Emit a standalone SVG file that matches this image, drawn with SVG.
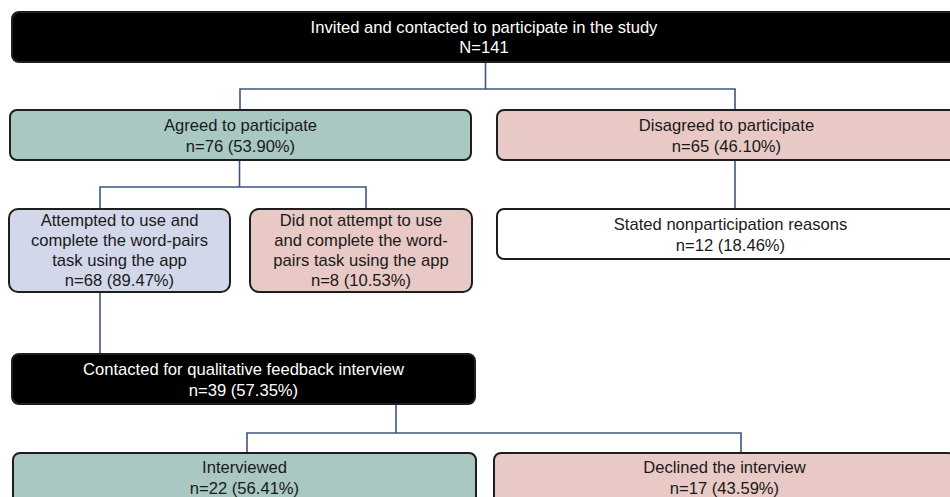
<svg xmlns="http://www.w3.org/2000/svg" width="950" height="497" viewBox="0 0 950 497">
<style>
.box{stroke:#1e1e1e;stroke-width:2}
.dark{fill:#000000}
.green{fill:#a8c8c1}
.pink{fill:#e8c9c5}
.blue{fill:#d2d7e9}
.white{fill:#ffffff}
text{font-family:"Liberation Sans",Arial,sans-serif;font-size:16.6px;text-anchor:middle;fill:#1a1a1a}
.dark+text, .lt{fill:#ffffff}
.conn{fill:none;stroke:#3d5580;stroke-width:1.6}
</style>
<rect width="950" height="497" fill="#ffffff"/>
<g id="connectors">
<path class="conn" d="M485.5,62 V89 H240 V110 M485.5,89 H735 V110"/>
<path class="conn" d="M239.5,160 V187 H100 V209 M239.5,187 H366 V209"/>
<path class="conn" d="M735,160 V209"/>
<path class="conn" d="M100,292 V354"/>
<path class="conn" d="M396,404 V433 H247 V453 M396,433 H741 V453"/>
</g>
<g id="invited">
<rect class="box dark" x="12" y="12" width="946" height="50" rx="7"/>
<text class="lt" x="484" y="33">Invited and contacted to participate in the study</text>
<text class="lt" x="484" y="53">N=141</text>
</g>
<g id="agreed">
<rect class="box green" x="10" y="110" width="461" height="50" rx="7"/>
<text x="240.5" y="131">Agreed to participate</text>
<text x="240.5" y="152">n=76 (53.90%)</text>
</g>
<g id="disagreed">
<rect class="box pink" x="497" y="110" width="461" height="50" rx="7"/>
<text x="726.5" y="131">Disagreed to participate</text>
<text x="726.5" y="152">n=65 (46.10%)</text>
</g>
<g id="attempted">
<rect class="box blue" x="9" y="209" width="221" height="83" rx="9"/>
<text x="119.5" y="226">Attempted to use and</text>
<text x="119.5" y="246">complete the word-pairs</text>
<text x="119.5" y="266">task using the app</text>
<text x="119.5" y="286">n=68 (89.47%)</text>
</g>
<g id="notattempted">
<rect class="box pink" x="250" y="209" width="222" height="83" rx="9"/>
<text x="361" y="226">Did not attempt to use</text>
<text x="361" y="246">and complete the word-</text>
<text x="361" y="266">pairs task using the app</text>
<text x="361" y="286">n=8 (10.53%)</text>
</g>
<g id="stated">
<rect class="box white" x="497" y="209" width="467" height="50" rx="7"/>
<text x="730.5" y="230">Stated nonparticipation reasons</text>
<text x="730.5" y="251">n=12 (18.46%)</text>
</g>
<g id="contacted">
<rect class="box dark" x="12" y="354" width="463" height="50" rx="7"/>
<text class="lt" x="243.5" y="375">Contacted for qualitative feedback interview</text>
<text class="lt" x="243.5" y="396">n=39 (57.35%)</text>
</g>
<g id="interviewed">
<rect class="box green" x="13" y="453" width="463" height="60" rx="7"/>
<text x="244.5" y="473">Interviewed</text>
<text x="244.5" y="494">n=22 (56.41%)</text>
</g>
<g id="declined">
<rect class="box pink" x="494" y="453" width="461" height="60" rx="7"/>
<text x="724.5" y="473">Declined the interview</text>
<text x="724.5" y="494">n=17 (43.59%)</text>
</g>
</svg>
